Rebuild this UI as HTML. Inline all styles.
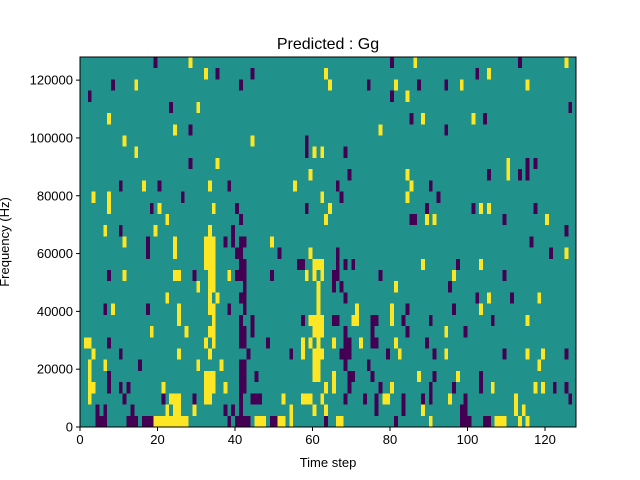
<!DOCTYPE html>
<html><head><meta charset="utf-8"><style>
html,body{margin:0;padding:0;background:#fff;}
svg{display:block;font-family:"Liberation Sans","DejaVu Sans",sans-serif;}
</style></head><body>
<svg id="chart" width="640" height="480" viewBox="0 0 640 480" xmlns="http://www.w3.org/2000/svg">
<rect width="640" height="480" fill="#fff"/>
<text x="328" y="49" font-size="16" text-anchor="middle">Predicted : Gg</text>
<g id="cells" shape-rendering="crispEdges"></g>
<g id="axes"></g>
<text x="328" y="467" font-size="13" text-anchor="middle">Time step</text>
<text transform="translate(9,242) rotate(-90)" font-size="13" text-anchor="middle">Frequency (Hz)</text>
</svg>
<script>
const nCols = 128;
const nRows = 33;
const xMax = 128;
const yMax = 128000;
const xTicks = [0,20,40,60,80,100,120];
const yTicks = [0,20000,40000,60000,80000,100000,120000];
// rows listed top (highest freq) to bottom; values: purple = low, yellow = high
const purpleCols = [
[19,80,113],[35,44,102],[8,41,74,87,94],[2,80],[23,126],[85,104],[28,94],[58],[58,68],
[28,115,117],[69,105,113,115],[10,20,38,66,90],[26,67,92],[18,40,58,89,101,117],
[41,85,86,109],[10,39,125],[17,37,39,41,42,116],[17,40,41,51,66,121],
[41,42,56,57,66,68,70,97],[7,29,40,41,42,49,65,66,77,109],[42,65,67,95],
[41,42,68,102,111],[6,17,38,42,84,96],[41,44,57,65,66,75,76,83,90,106],
[41,42,44,68,75,84,99],[7,41,42,48,68,69,75,76,89],[10,43,54,67,68,69,79,91,109,125],
[15,41,42,68,74],[7,41,42,45,69,70,75,91,103],[7,10,12,41,42,69,77,90,96,103,122,125],
[11,21,29,41,44,45,46,68,73,76,83,88,90,99,126],[4,6,13,37,39,41,76,83,98,99],
[4,5,6,12,13,14,16,17,18,38,40,41,42,43,49,50,63,81,98,99,100,104,105]
];
const yellowCols = [
[28,86,125],[32,63,105],[14,64,81,98,115],[84],[30],[7,88,101],[24,77],[11,44],[14,60,62],
[35,110],[59,84,110],[16,33,55,85],[3,7,62,84],[7,20,34,64,103,105],[22,63,89,91,120],
[6,19,33],[11,24,32,33,34,49],[24,32,33,34,59,125],[32,33,34,60,61,62,88,103],
[11,24,25,33,34,38,58,60,62,96],[30,33,34,61,81],[22,33,35,61,105,118],
[8,25,33,34,61,71,80,103],[25,34,59,60,61,62,70,71,80,115],[18,27,33,34,60,61,62,94],
[1,2,32,34,57,59,61,65,72,81],[3,25,33,57,60,61,62,82,94,115,119],[2,6,30,36,60,61,118],
[2,32,33,34,60,61,65,87,97],[2,3,21,32,33,34,37,63,65,80,106,117,119],
[2,23,24,25,32,33,52,57,58,59,62,78,79,95,112],[22,24,25,29,54,60,63,88,112,114],
[19,20,21,22,23,24,25,26,27,45,46,47,51,52,54,66,67,90,107,108,109,113,115]
];
const NS = "http://www.w3.org/2000/svg";
const L = 80, R = 576, T = 57, B = 427;
const xs = v => L + (v / xMax) * (R - L);
const ys = v => B - (v / yMax) * (B - T);
const colW = (R - L) / nCols;
const rowH = (B - T) / nRows;
const cells = document.getElementById('cells');
const bg = document.createElementNS(NS, 'rect');
bg.setAttribute('x', L); bg.setAttribute('y', T);
bg.setAttribute('width', R - L); bg.setAttribute('height', B - T);
bg.setAttribute('fill', '#21918c');


cells.appendChild(bg);
function addCells(list, color, nm) {
  list.forEach((cols, r) => {
    cols.forEach(c => {
      const el = document.createElementNS(NS, 'rect');
      el.setAttribute('x', (L + c * colW).toFixed(2));
      el.setAttribute('y', (T + r * rowH).toFixed(2));
      el.setAttribute('width', colW.toFixed(2));
      el.setAttribute('height', rowH.toFixed(2));
      el.setAttribute('fill', color);
      
      
      cells.appendChild(el);
    });
  });
}
addCells(purpleCols, '#440154', 'heatmap-cell-low');
addCells(yellowCols, '#fde725', 'heatmap-cell-high');
const axes = document.getElementById('axes');
const frame = document.createElementNS(NS, 'rect');
frame.setAttribute('x', L); frame.setAttribute('y', T);
frame.setAttribute('width', R - L); frame.setAttribute('height', B - T);
frame.setAttribute('fill', 'none'); frame.setAttribute('stroke', '#000'); frame.setAttribute('stroke-width', '1');


axes.appendChild(frame);
xTicks.forEach(t => {
  const x = xs(t);
  const ln = document.createElementNS(NS, 'line');
  ln.setAttribute('x1', x); ln.setAttribute('x2', x); ln.setAttribute('y1', B); ln.setAttribute('y2', B + 4);
  ln.setAttribute('stroke', '#000');
  
  
  axes.appendChild(ln);
  const tx = document.createElementNS(NS, 'text');
  tx.setAttribute('x', x); tx.setAttribute('y', B + 17); tx.setAttribute('font-size', '13'); tx.setAttribute('text-anchor', 'middle');
  tx.textContent = t;
  
  
  axes.appendChild(tx);
});
yTicks.forEach(t => {
  const y = ys(t);
  const ln = document.createElementNS(NS, 'line');
  ln.setAttribute('x1', L - 4); ln.setAttribute('x2', L); ln.setAttribute('y1', y); ln.setAttribute('y2', y);
  ln.setAttribute('stroke', '#000');
  
  
  axes.appendChild(ln);
  const tx = document.createElementNS(NS, 'text');
  tx.setAttribute('x', L - 7); tx.setAttribute('y', y + 4.5); tx.setAttribute('font-size', '13'); tx.setAttribute('text-anchor', 'end');
  tx.textContent = t;
  
  
  axes.appendChild(tx);
});
</script>
</body></html>
